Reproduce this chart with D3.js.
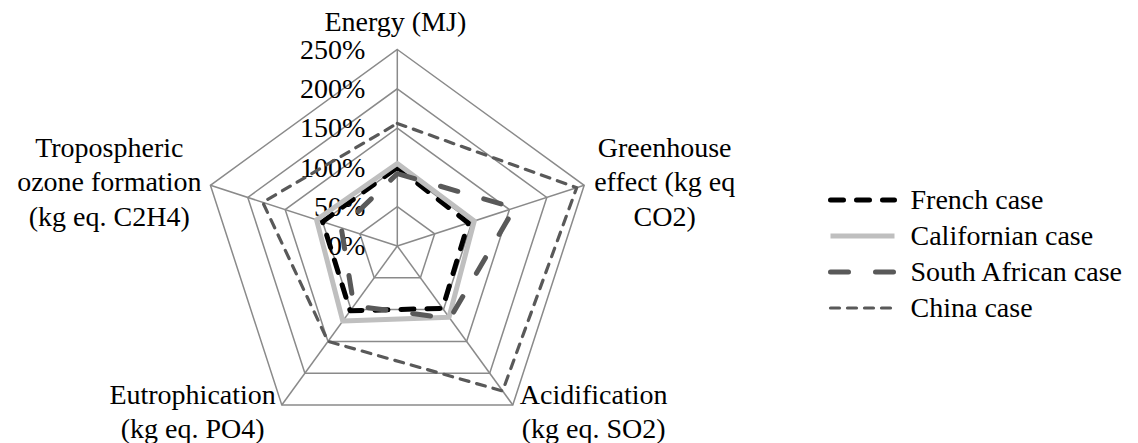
<!DOCTYPE html>
<html>
<head>
<meta charset="utf-8">
<script src="https://cdn.jsdelivr.net/npm/d3@7"></script>
<style>
  html, body { margin: 0; padding: 0; background: #fff; }
  svg { display: block; }
  text { font-family: "Liberation Serif", "DejaVu Serif", "Noto Serif", serif; font-size: 28px; fill: #000; }
</style>
</head>
<body>
<svg id="chart" width="1138" height="443"></svg>
<script>
// Impact categories (radar axes), clockwise from the top
const categories = [
  "Energy (MJ)",
  "Greenhouse effect (kg eq CO2)",
  "Acidification (kg eq. SO2)",
  "Eutrophication (kg eq. PO4)",
  "Tropospheric ozone formation (kg eq. C2H4)"
];
// How each category name wraps on the chart
const categoryLines = [
  ["Energy (MJ)"],
  ["Greenhouse", "effect (kg eq", "CO2)"],
  ["Acidification", "(kg eq. SO2)"],
  ["Eutrophication", "(kg eq. PO4)"],
  ["Tropospheric", "ozone formation", "(kg eq. C2H4)"]
];

// Series values, in % of the reference case
const seriesNames = ["French case", "Californian case", "South African case", "China case"];
const frenchCase       = [100,  95,  98, 102, 100];
const californianCase  = [105, 103, 112, 118, 108];
const southAfricanCase = [ 92, 157, 114,  94,  75];
const chinaCase        = [156, 240, 228, 150, 180];

// Radial axis ticks
const tickValues = [0, 50, 100, 150, 200, 250];
const tickLabels = ["0%", "50%", "100%", "150%", "200%", "250%"];

// ---------------------------------------------------------------
const seriesValues = [frenchCase, californianCase, southAfricanCase, chinaCase];
const seriesStyles = [
  { color: "#000000", width: 5,   dash: "13,13" },
  { color: "#bfbfbf", width: 5,   dash: null },
  { color: "#595959", width: 5,   dash: "18,27" },
  { color: "#595959", width: 3.2, dash: "9,8" }
];

const svg = d3.select("#chart");
const cx = 397.3, cy = 246, R = 196.5;
const g = svg.append("g").attr("transform", `translate(${cx},${cy})`);

const r = d3.scaleLinear().domain([0, d3.max(tickValues)]).range([0, R]);
const angle = d3.scaleLinear().domain([0, categories.length]).range([0, 2 * Math.PI]);

const radial = d3.lineRadial()
  .angle((d, i) => angle(i))
  .radius(d => r(d))
  .curve(d3.curveLinearClosed);

const pt = (i, v) => {
  const a = angle(i) - Math.PI / 2;
  return [Math.cos(a) * r(v), Math.sin(a) * r(v)];
};

// Grid rings
const gridColor = "#8a8a8a";
g.append("g").selectAll("path")
  .data(tickValues.filter(t => t > 0))
  .join("path")
  .attr("d", t => radial(categories.map(() => t)))
  .attr("fill", "none")
  .attr("stroke", gridColor)
  .attr("stroke-width", 1.5);

// Spokes
const maxTick = d3.max(tickValues);
g.append("g").selectAll("line")
  .data(categories)
  .join("line")
  .attr("x1", 0).attr("y1", 0)
  .attr("x2", (d, i) => pt(i, maxTick)[0])
  .attr("y2", (d, i) => pt(i, maxTick)[1])
  .attr("stroke", gridColor)
  .attr("stroke-width", 1.5);

// Tick labels along the top axis
g.append("g").selectAll("text")
  .data(tickValues)
  .join("text")
  .attr("x", -32)
  .attr("y", d => -r(d))
  .attr("dy", "0.33em")
  .attr("text-anchor", "end")
  .text((d, i) => tickLabels[i]);

// Series polygons
g.append("g").selectAll("path")
  .data(seriesValues)
  .join("path")
  .attr("d", d => radial(d))
  .attr("fill", "none")
  .attr("stroke", (d, i) => seriesStyles[i].color)
  .attr("stroke-width", (d, i) => seriesStyles[i].width)
  .attr("stroke-dasharray", (d, i) => seriesStyles[i].dash)
  .attr("stroke-linecap", (d, i) => seriesStyles[i].dash ? "round" : "butt")
  .attr("stroke-linejoin", "round");

// Category labels, placed beside each outer vertex
const lineH = 34.5;
const labels = g.append("g");
categoryLines.forEach((lines, i) => {
  const [vx, vy] = pt(i, maxTick);
  const grp = labels.append("g");
  const texts = lines.map(l => grp.append("text").attr("text-anchor", "middle").text(l));
  const w = d3.max(texts, t => t.node().getComputedTextLength());
  let centerX, firstBase;
  if (i === 0) {            // top
    centerX = vx - 2;
    firstBase = vy - 18.5;
  } else if (i === 1) {     // right
    centerX = vx + 10 + w / 2;
    firstBase = vy - 28.5;
  } else if (i === 4) {     // left
    centerX = vx - 9 - w / 2;
    firstBase = vy - 28.5;
  } else if (i === 2) {     // lower right
    centerX = vx + 7 + w / 2;
    firstBase = vy - 1;
  } else {                  // lower left
    centerX = vx - 6 - w / 2;
    firstBase = vy - 1;
  }
  texts.forEach((t, k) => t.attr("x", centerX).attr("y", firstBase + k * lineH));
});

// Legend
const legend = svg.append("g").attr("transform", "translate(830.5,200)");
const rowH = 36;
const row = legend.selectAll("g")
  .data(seriesNames)
  .join("g")
  .attr("transform", (d, i) => `translate(0,${i * rowH})`);
row.append("line")
  .attr("x1", 0).attr("x2", 64)
  .attr("y1", 0).attr("y2", 0)
  .attr("stroke", (d, i) => seriesStyles[i].color)
  .attr("stroke-width", (d, i) => seriesStyles[i].width)
  .attr("stroke-dasharray", (d, i) => seriesStyles[i].dash)
  .attr("stroke-linecap", (d, i) => seriesStyles[i].dash ? "round" : "butt");
row.append("text")
  .attr("x", 80)
  .attr("y", 0)
  .attr("dy", "0.33em")
  .text(d => d);
</script>
</body>
</html>
